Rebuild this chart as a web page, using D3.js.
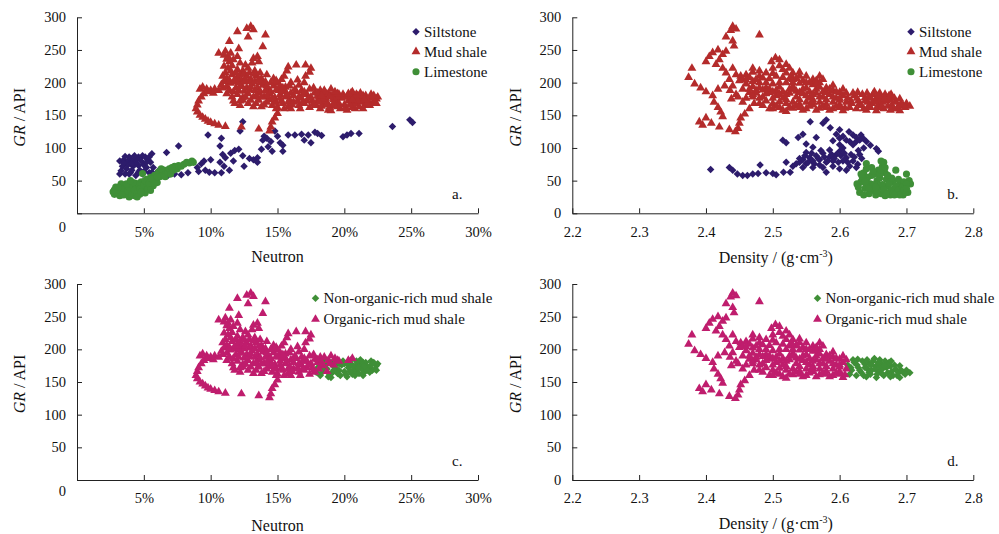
<!DOCTYPE html>
<html>
<head>
<meta charset="utf-8">
<script src="https://cdn.jsdelivr.net/npm/d3@7"></script>
<style>
  body { margin: 0; background: #fff; }
  text { font-family: "Liberation Serif", "Times New Roman", serif; fill: #111; }
</style>
</head>
<body>
<svg id="chart" width="999" height="534"></svg>
<script>
// ---- data (neutron in %, density in g/cm3, GR in API) ----
const yTicks = [0, 50, 100, 150, 200, 250, 300];
const neutronTicks = [0, 5, 10, 15, 20, 25, 30];
const densityTicks = [2.2, 2.3, 2.4, 2.5, 2.6, 2.7, 2.8];

const siltstoneNeutron = [
  [3.2,80],[3.5,82],[3.8,79],[4.0,84],[4.3,80],[4.6,86],[4.9,88],[5.1,86],[5.3,82],[5.5,78],[5.0,74],[4.6,73],
  [4.2,72],[3.8,74],[3.4,72],[4.4,77],[5.2,70],[3.2,60],[3.6,60],[4.0,62],[4.4,58],[4.9,60],[5.4,62],[5.9,60],
  [5.6,91],[6.7,93],[7.6,103],[6.3,62],[6.8,58],[7.3,60],[7.8,59],[8.3,62],[9.0,70],[9.3,76],[9.6,66],[9.1,64],
  [9.9,63],[10.3,62],[10.8,62],[9.5,80],[10.0,82],[9.8,120],[10.8,115],[10.7,103],[10.9,90],[11.1,85],[10.7,78],
  [11.5,92],[11.8,96],[11.4,66],[12.4,140],[12.2,126],[12.1,98],[12.4,88],[12.5,72],[13.2,82],[13.5,78],[13.5,85],
  [13.8,98],[14.0,118],[14.2,115],[14.5,110],[14.6,95],[14.8,126],[15.0,118],[15.2,108],[15.4,95],[15.4,104],
  [15.8,120],[16.3,120],[16.8,121],[17.0,112],[17.3,120],[17.5,108],[17.8,124],[18.0,122],[18.3,119],[19.9,117],
  [20.2,120],[20.5,122],[21.1,122],[23.6,133],[24.9,143],[25.1,139],[11.0,72],[11.7,80],[12.9,84],[14.3,102],[13.9,112],
  [3.5,77],[3.9,86],[4.1,76],[4.5,83],[4.8,80],[5.2,78],[3.7,68],[4.1,66],[3.3,65],[4.7,66],[5.0,64],[5.7,70],
  [4.3,88],[3.6,87],[5.4,86],[3.9,60],[4.6,63],[5.6,63],[6.1,65]
];

const limestoneNeutron = [
  [2.7,33],[2.8,29],[3.0,36],[3.1,30],[3.2,27],[3.3,39],[3.4,33],[3.5,28],[3.6,42],[3.7,36],[3.8,30],[3.9,25],
  [4.0,44],[4.1,38],[4.2,32],[4.3,27],[4.4,46],[4.5,40],[4.6,34],[4.7,29],[4.8,48],[4.9,42],[5.0,36],[5.1,31],
  [5.2,52],[5.3,45],[5.4,39],[5.5,55],[5.6,48],[5.7,42],[5.8,58],[5.9,52],[6.0,47],[4.9,61],[3.3,45],[2.9,40],
  [6.1,63],[6.2,56],[6.4,60],[6.5,66],[6.6,56],[6.8,62],[6.9,68],[7.0,60],[7.2,66],[7.3,72],[7.5,68],[7.6,73],
  [7.8,72],[8.0,75],[8.2,78],[8.4,77],[8.6,80],[8.7,78],[6.3,68],[7.1,70],[3.6,32],[4.4,36],[5.2,40],[4.0,30],
  [3.0,32],[3.2,35],[3.4,30],[3.5,38],[3.8,34],[3.9,40],[4.1,28],[4.2,42],[4.3,36],[4.5,30],[4.6,44],[4.7,38],
  [4.8,32],[5.0,44],[5.1,50],[5.3,38],[5.4,46],[5.6,53],[5.8,46],[6.0,56],[4.2,47],[3.7,45],[2.8,36],[3.1,40],
  [4.5,25],[4.0,50],[5.5,35]
];

const organicNeutron = [
  [9.0,155],[8.9,160],[9.0,166],[9.1,172],[9.3,178],[9.5,183],[9.2,190],[9.4,193],[9.7,190],[10.0,188],[10.3,190],
  [10.6,188],[10.9,192],[9.2,150],[9.4,147],[9.6,144],[9.8,141],[10.0,139],[10.3,137],[10.6,135],[11.1,133],
  [9.8,186],[10.2,184],
  [12.0,278],[12.7,283],[13.0,286],[13.2,281],[12.8,270],[14.1,273],[13.9,255],[12.1,252],[11.4,263],[10.6,245],
  [11.1,248],[11.3,240],[13.2,237],[13.5,240],[12.6,227],[13.1,230],[13.6,232],
  [11.0,242],[11.2,236],[11.4,232],[11.0,225],[11.3,222],[11.6,226],[12.0,220],[12.4,218],[12.8,222],[13.3,218],
  [10.9,210],[11.2,206],[11.6,212],[12.0,208],[12.3,204],[12.7,210],[13.0,205],[13.4,210],[13.8,206],[14.2,212],[14.7,206],
  [10.8,197],[11.2,194],[11.5,199],[11.9,192],[12.3,196],[12.7,192],[13.1,198],[13.5,192],[13.9,196],[14.3,190],
  [14.7,195],[15.0,199],[15.3,205],[15.2,195],[15.6,193],
  [11.2,183],[11.6,178],[12.0,182],[12.4,177],[12.8,183],[13.2,178],[13.6,184],[14.0,178],[14.4,183],[14.8,177],
  [15.2,182],[15.6,178],[16.0,184],
  [11.8,168],[12.2,172],[13.4,168],[13.8,163],[14.2,170],[14.6,165],[15.0,162],[15.4,168],[15.8,163],[16.2,170],[16.6,165],
  [12.3,132],[13.6,129],[14.4,126],[14.5,132],[14.6,140],[14.8,146],[15.0,153],[14.9,160],[12.2,165],[11.7,172],[11.4,188],
  [15.5,210],[15.7,218],[15.8,224],[16.4,227],[17.1,227],[17.5,222],[17.4,216],[17.1,210],[16.5,204],[16.0,200],
  [15.9,195],[16.6,196],[17.0,200],
  [16.8,176],[17.2,182],[17.6,172],[18.0,180],[18.4,175],[18.8,183],[19.2,176],[19.6,182],[17.0,168],[17.8,165],
  [18.2,188],[17.4,190],[16.8,188],[19.5,183],[20.6,186],[20.3,183],
  [15.3,172],[15.6,186],[15.9,174],[16.2,180],[16.5,172],[16.4,186],[16.9,182],[17.2,172],[17.5,178],[17.8,185],
  [18.1,170],[18.5,188],[18.9,178],[19.3,186],[15.1,188],[16.0,160],[16.7,160],[17.4,162],[15.8,170],[16.3,190],
  [17.7,192],[15.5,160],[14.9,170],[19.0,190],
  [11.1,215],[11.5,218],[11.9,215],[12.2,212],[12.5,214],[12.9,215],[13.3,213],[13.7,215],[11.0,202],[11.4,203],
  [11.8,201],[12.1,200],[12.5,201],[12.9,202],[13.3,201],[13.7,200],[14.1,201],[14.5,200],[14.9,203],[11.4,188],
  [11.7,186],[12.1,188],[12.5,187],[12.9,189],[13.3,188],[13.7,187],[14.1,188],[14.5,186],[14.9,189],[15.4,188],
  [12.2,230],[11.7,235],[12.0,240],[11.5,245],[12.4,173],[12.8,168],[13.0,173],[13.6,173],[14.0,166],[14.4,174],
  [14.8,170],[13.2,163],[12.6,178],[13.4,180],[14.2,180],
  [15.2,176],[15.7,182],[16.1,166],[16.6,178],[17.0,186],[17.3,176],[17.7,168],[18.0,184],[18.3,180],[18.7,166],
  [16.9,170],[15.4,192],[14.6,176],[14.2,195],[13.8,178],[13.0,193],[12.2,194],[11.8,205],[12.6,205],[13.6,205]
];

const nonOrganicNeutron = [
  [17.9,165],[18.2,160],[18.5,168],[18.8,158],[19.1,164],[19.4,170],[19.7,160],[20.0,166],[20.3,172],[20.6,162],
  [20.9,168],[21.2,175],[21.5,165],[21.8,171],[22.1,168],[22.4,175],[22.5,178],[21.0,180],[20.5,178],[19.8,176],
  [19.2,174],[18.6,176],[21.6,180],[22.0,176],[20.2,158],[19.0,157],[21.3,170],[18.0,172],[20.8,174],[21.9,165],
  [18.1,178],[18.4,183],[18.7,170],[19.0,180],[19.3,184],[19.6,168],[19.9,182],[20.2,178],[20.5,184],[20.8,160],
  [21.1,163],[21.4,180],[21.7,174],[22.0,182],[22.3,170],[18.3,164],[18.9,162],[19.5,163],[20.1,162],[20.7,168],
  [21.0,172],[21.7,168],[22.2,180],[19.4,177],[20.4,166],[21.2,184],[18.6,184],[20.9,182],
  [18.4,172],[19.6,178],[20.6,174],[21.5,174],[22.4,168],[19.2,168],[20.0,178],[21.4,160]
];

const siltstoneDensity = [
  [2.407,67],[2.435,70],[2.44,66],[2.447,60],[2.455,58],[2.462,58],[2.47,60],[2.478,61],[2.481,74],[2.49,62],
  [2.50,61],[2.505,59],[2.516,63],[2.52,78],[2.526,63],[2.515,112],[2.52,108],[2.538,116],[2.545,121],[2.55,106],
  [2.556,140],[2.56,101],[2.565,116],[2.575,138],[2.58,143],[2.586,131],[2.59,111],[2.595,121],[2.60,128],
  [2.605,118],[2.61,112],[2.614,125],[2.62,120],[2.625,116],[2.632,120],[2.64,110],[2.646,104],[2.655,99],
  [2.658,95],[2.63,90],[2.633,84],[2.627,75],[2.61,66],[2.605,80],[2.58,63],[2.53,72],[2.54,78],[2.545,82],
  [2.55,76],[2.555,85],[2.56,80],[2.565,88],[2.57,82],[2.575,92],[2.58,78],[2.585,86],[2.59,80],[2.595,90],
  [2.60,95],[2.605,100],[2.61,85],[2.62,80],[2.57,74],[2.585,97],[2.615,110],[2.60,105],[2.625,70],[2.55,93],
  [2.535,76],[2.54,84],[2.548,88],[2.553,78],[2.558,92],[2.562,76],[2.568,84],[2.572,96],[2.577,86],[2.582,80],
  [2.588,90],[2.592,84],[2.598,78],[2.602,88],[2.607,92],[2.612,78],[2.617,90],[2.622,86],[2.628,96],[2.636,100],
  [2.56,70],[2.575,70],[2.59,72],[2.60,68],[2.615,72],[2.545,70],[2.625,110],[2.635,115],[2.62,105],[2.60,115],[2.63,112]
];

const limestoneDensity = [
  [2.628,40],[2.632,48],[2.636,62],[2.64,68],[2.642,55],[2.646,45],[2.65,35],[2.652,60],[2.656,50],[2.66,40],
  [2.662,30],[2.664,72],[2.666,78],[2.668,62],[2.67,52],[2.672,42],[2.674,32],[2.676,28],[2.68,48],[2.682,38],
  [2.684,66],[2.686,30],[2.69,44],[2.692,35],[2.695,28],[2.698,40],[2.70,60],[2.704,50],[2.702,32],[2.638,38],
  [2.644,30],[2.654,28],[2.668,27],[2.678,36],[2.688,52],[2.658,66],[2.648,70],[2.634,55],[2.626,45],[2.696,48],
  [2.706,45],[2.64,42],
  [2.63,32],[2.636,28],[2.64,50],[2.644,38],[2.648,58],[2.652,44],[2.656,34],[2.66,54],[2.664,44],[2.666,36],
  [2.67,30],[2.674,46],[2.678,54],[2.68,30],[2.684,42],[2.688,36],[2.69,28],[2.694,40],[2.698,32],[2.70,45],
  [2.65,64],[2.66,60],[2.672,58],[2.662,66],[2.638,48],[2.632,60],[2.64,76],[2.662,80],[2.668,70],[2.654,40],
  [2.682,28],[2.696,36],[2.70,38]
];

const organicDensity = [
  [2.374,208],[2.379,222],[2.383,198],[2.392,192],[2.40,186],[2.41,180],[2.412,170],[2.418,162],[2.422,155],
  [2.425,148],[2.39,140],[2.395,135],[2.40,146],[2.408,138],[2.42,132],[2.435,128],[2.444,125],[2.448,130],
  [2.45,138],[2.452,146],[2.458,152],[2.465,160],[2.472,168],[2.48,176],
  [2.43,270],[2.437,280],[2.44,286],[2.445,282],[2.44,264],[2.442,256],[2.48,273],[2.40,232],[2.405,240],
  [2.41,246],[2.418,250],[2.425,243],[2.43,248],[2.42,235],[2.415,228],[2.425,222],[2.43,215],[2.44,222],
  [2.445,212],[2.435,205],[2.418,190],[2.428,195],[2.436,188],[2.445,182],[2.438,175],[2.44,195],[2.45,203],
  [2.452,210],[2.448,178],
  [2.46,212],[2.47,216],[2.48,210],[2.49,215],[2.50,222],[2.498,232],[2.504,238],[2.51,226],[2.515,220],
  [2.52,228],[2.525,222],[2.53,215],[2.54,210],[2.56,205],
  [2.46,198],[2.47,194],[2.48,200],[2.49,192],[2.50,198],[2.51,193],[2.52,200],[2.53,194],[2.54,199],[2.55,192],
  [2.56,197],[2.57,200],[2.58,192],[2.59,188],[2.60,185],
  [2.475,184],[2.485,178],[2.495,185],[2.505,180],[2.515,176],[2.525,184],[2.535,178],[2.545,183],[2.555,176],
  [2.565,184],[2.575,178],[2.585,182],[2.595,176],[2.605,180],
  [2.50,168],[2.51,162],[2.52,168],[2.53,161],[2.54,167],[2.55,160],[2.56,166],[2.57,161],[2.58,167],[2.59,160],
  [2.60,166],[2.608,161],[2.455,170],[2.465,185],[2.47,202],
  [2.455,205],[2.465,208],[2.475,205],[2.485,207],[2.495,206],[2.505,210],[2.515,208],[2.525,206],[2.535,206],
  [2.545,203],[2.555,200],[2.565,203],[2.575,205],
  [2.455,190],[2.465,190],[2.475,188],[2.485,189],[2.495,190],[2.505,188],[2.515,186],[2.525,190],[2.535,187],
  [2.545,190],[2.555,186],[2.565,190],[2.575,186],[2.585,190],[2.595,186],[2.605,190],
  [2.49,172],[2.50,176],[2.51,171],[2.52,174],[2.53,170],[2.54,174],[2.55,170],[2.56,174],[2.57,170],[2.58,174],
  [2.59,170],[2.60,173],[2.61,170],[2.48,168],
  [2.495,160],[2.505,164],[2.515,158],[2.525,162],[2.535,165],[2.545,158],[2.555,164],[2.565,158],[2.575,164],
  [2.585,158],[2.595,164],[2.605,157],
  [2.52,215],[2.528,210],[2.51,235],[2.53,205],[2.565,198],[2.57,210],
  [2.46,204],[2.47,182],[2.48,192],[2.49,200],[2.50,186],[2.51,200],[2.52,182],[2.53,200],[2.54,185],[2.55,180],
  [2.56,182],[2.57,193],[2.58,185],[2.59,196],[2.60,176],[2.485,165],[2.50,160],[2.52,156],[2.54,162],[2.56,170],
  [2.58,162],[2.60,162],[2.61,184],[2.59,178],[2.57,178],[2.55,200],[2.53,190],[2.51,182],[2.49,183],[2.47,178],
  [2.46,176],[2.50,214],[2.48,218],[2.47,222],[2.54,216],[2.55,210]
];

const nonOrganicDensity = [
  [2.612,176],[2.618,168],[2.622,180],[2.628,172],[2.632,165],[2.638,177],[2.642,170],[2.646,162],[2.65,182],
  [2.654,174],[2.658,166],[2.662,178],[2.666,160],[2.67,172],[2.674,180],[2.678,166],[2.682,176],[2.686,160],
  [2.69,157],[2.695,165],[2.70,168],[2.705,164],[2.66,184],[2.64,158],[2.625,160],[2.655,157],[2.672,164],[2.684,170],
  [2.615,162],[2.62,184],[2.626,176],[2.634,182],[2.636,160],[2.644,178],[2.648,168],[2.652,186],[2.656,162],
  [2.664,170],[2.668,182],[2.676,174],[2.68,160],[2.688,164],[2.692,168],[2.644,165],[2.66,174],[2.63,168],
  [2.672,176],[2.658,180],[2.638,172],[2.676,158],
  [2.617,172],[2.627,185],[2.641,184],[2.653,170],[2.663,163],[2.677,182],[2.69,175],[2.698,162],[2.647,176],[2.667,175]
];

// ---- drawing ----
const svg = d3.select("#chart");

const colors = {
  siltstone: "#2d1c6c",
  mud: "#b42b2b",
  limestone: "#3f8f37",
  organic: "#bf1d6d",
  nonOrganic: "#3f8f37"
};

const shapes = {
  diamond: d3.symbol(d3.symbolSquare, 28)(),
  triangle: d3.symbol(d3.symbolTriangle, 34)(),
  circle: d3.symbol(d3.symbolCircle, 40)()
};

function place(shape, x, y) {
  return `translate(${x},${y})` + (shape === "diamond" ? " rotate(45)" : "");
}

function drawPanel(p) {
  const g = svg.append("g");
  const x = d3.scaleLinear().domain(p.xDomain).range([p.left, p.right]);
  const y = d3.scaleLinear().domain([0, 300]).range([p.bottom, p.top]);

  // points, in series order (later ones on top)
  p.series.forEach(s => {
    g.append("g").selectAll("path")
      .data(s.data)
      .join("path")
      .attr("d", shapes[s.shape])
      .attr("transform", d => place(s.shape, x(d[0]), y(d[1])))
      .attr("fill", s.color);
  });

  const xAxis = d3.axisBottom(x)
    .tickValues(p.xTicks)
    .tickSizeInner(-5)
    .tickSizeOuter(0)
    .tickPadding(p.xPad)
    .tickFormat(p.xFormat);

  const yAxis = d3.axisLeft(y)
    .tickValues(yTicks)
    .tickSizeInner(-5)
    .tickSizeOuter(0)
    .tickPadding(11);

  const gx = g.append("g")
    .attr("transform", `translate(0,${p.bottom})`)
    .call(xAxis);
  const gy = g.append("g")
    .attr("transform", `translate(${p.left},0)`)
    .call(yAxis);

  [gx, gy].forEach(a => {
    a.selectAll("path, line").attr("stroke", "#222");
    a.selectAll("text").style("font-size", "14.5px").style("font-family", "Liberation Serif").attr("fill", "#111");
  });

  // the zero label sits lower on the neutron panels
  if (p.zeroDrop) {
    gy.selectAll(".tick").filter(d => d === 0).select("text").attr("y", p.zeroDrop);
  }

  // axis titles
  const xt = g.append("text")
    .attr("x", (p.left + p.right) / 2 + p.titleShift)
    .attr("y", p.xTitleY)
    .attr("text-anchor", "middle")
    .style("font-size", "16px");
  if (p.density) {
    xt.append("tspan").text("Density / (g·cm");
    xt.append("tspan").text("-3").attr("dy", -6).style("font-size", "10px");
    xt.append("tspan").text(")").attr("dy", 6);
  } else {
    xt.text("Neutron");
  }

  const yt = g.append("text")
    .attr("transform", `translate(${p.yTitleX},${(p.top + p.bottom) / 2 + 2}) rotate(-90)`)
    .attr("text-anchor", "middle")
    .attr("dy", "0.35em")
    .style("font-size", "16px");
  yt.append("tspan").text("GR").style("font-style", "italic");
  yt.append("tspan").text(" / API");

  // panel letter
  g.append("text")
    .attr("x", p.right - 26)
    .attr("y", p.bottom - 14)
    .style("font-size", "15px")
    .text(p.letter);

  // legend
  const lg = g.append("g");
  p.series.slice().sort((a, b) => a.legendOrder - b.legendOrder).forEach((s, i) => {
    const ly = p.legendY + i * p.legendStep;
    lg.append("path")
      .attr("d", shapes[s.shape])
      .attr("transform", place(s.shape, p.legendX, ly))
      .attr("fill", s.color);
    lg.append("text")
      .attr("x", p.legendX + 8)
      .attr("y", ly)
      .attr("dy", "0.34em")
      .style("font-size", "15px")
      .text(s.name);
  });
}

const pctFormat = d => d === 0 ? "" : d + "%";
const densFormat = d3.format(".1f");

drawPanel({
  left: 77, right: 478, top: 17.3, bottom: 213.3,
  xDomain: [0, 30], xTicks: neutronTicks, xFormat: pctFormat, xPad: 13.5,
  zeroDrop: 13.5, xTitleY: 262, yTitleX: 19, titleShift: 0, letter: "a.",
  legendX: 416, legendY: 31.7, legendStep: 20,
  series: [
    { name: "Siltstone", shape: "diamond", color: colors.siltstone, data: siltstoneNeutron, legendOrder: 0 },
    { name: "Mud shale", shape: "triangle", color: colors.mud, data: nonOrganicNeutron.concat(organicNeutron), legendOrder: 1 },
    { name: "Limestone", shape: "circle", color: colors.limestone, data: limestoneNeutron, legendOrder: 2 }
  ]
});

drawPanel({
  left: 572.3, right: 973.3, top: 17.3, bottom: 213.3,
  xDomain: [2.2, 2.8], xTicks: densityTicks, xFormat: densFormat, xPad: 13.5,
  zeroDrop: 0, xTitleY: 263, yTitleX: 515, titleShift: 3, letter: "b.", density: true,
  legendX: 911, legendY: 31.7, legendStep: 20,
  series: [
    { name: "Siltstone", shape: "diamond", color: colors.siltstone, data: siltstoneDensity, legendOrder: 0 },
    { name: "Mud shale", shape: "triangle", color: colors.mud, data: nonOrganicDensity.concat(organicDensity), legendOrder: 1 },
    { name: "Limestone", shape: "circle", color: colors.limestone, data: limestoneDensity, legendOrder: 2 }
  ]
});

drawPanel({
  left: 77, right: 478, top: 284, bottom: 480,
  xDomain: [0, 30], xTicks: neutronTicks, xFormat: pctFormat, xPad: 13,
  zeroDrop: 11, xTitleY: 531, yTitleX: 19, titleShift: 0, letter: "c.",
  legendX: 315.5, legendY: 298.3, legendStep: 21,
  series: [
    { name: "Non-organic-rich mud shale", shape: "diamond", color: colors.nonOrganic, data: nonOrganicNeutron, legendOrder: 0 },
    { name: "Organic-rich mud shale", shape: "triangle", color: colors.organic, data: organicNeutron, legendOrder: 1 }
  ]
});

drawPanel({
  left: 572.3, right: 973.3, top: 284, bottom: 480,
  xDomain: [2.2, 2.8], xTicks: densityTicks, xFormat: densFormat, xPad: 13,
  zeroDrop: 0, xTitleY: 529, yTitleX: 515, titleShift: 3, letter: "d.", density: true,
  legendX: 817.5, legendY: 298.3, legendStep: 21,
  series: [
    { name: "Non-organic-rich mud shale", shape: "diamond", color: colors.nonOrganic, data: nonOrganicDensity, legendOrder: 0 },
    { name: "Organic-rich mud shale", shape: "triangle", color: colors.organic, data: organicDensity, legendOrder: 1 }
  ]
});
</script>
</body>
</html>
